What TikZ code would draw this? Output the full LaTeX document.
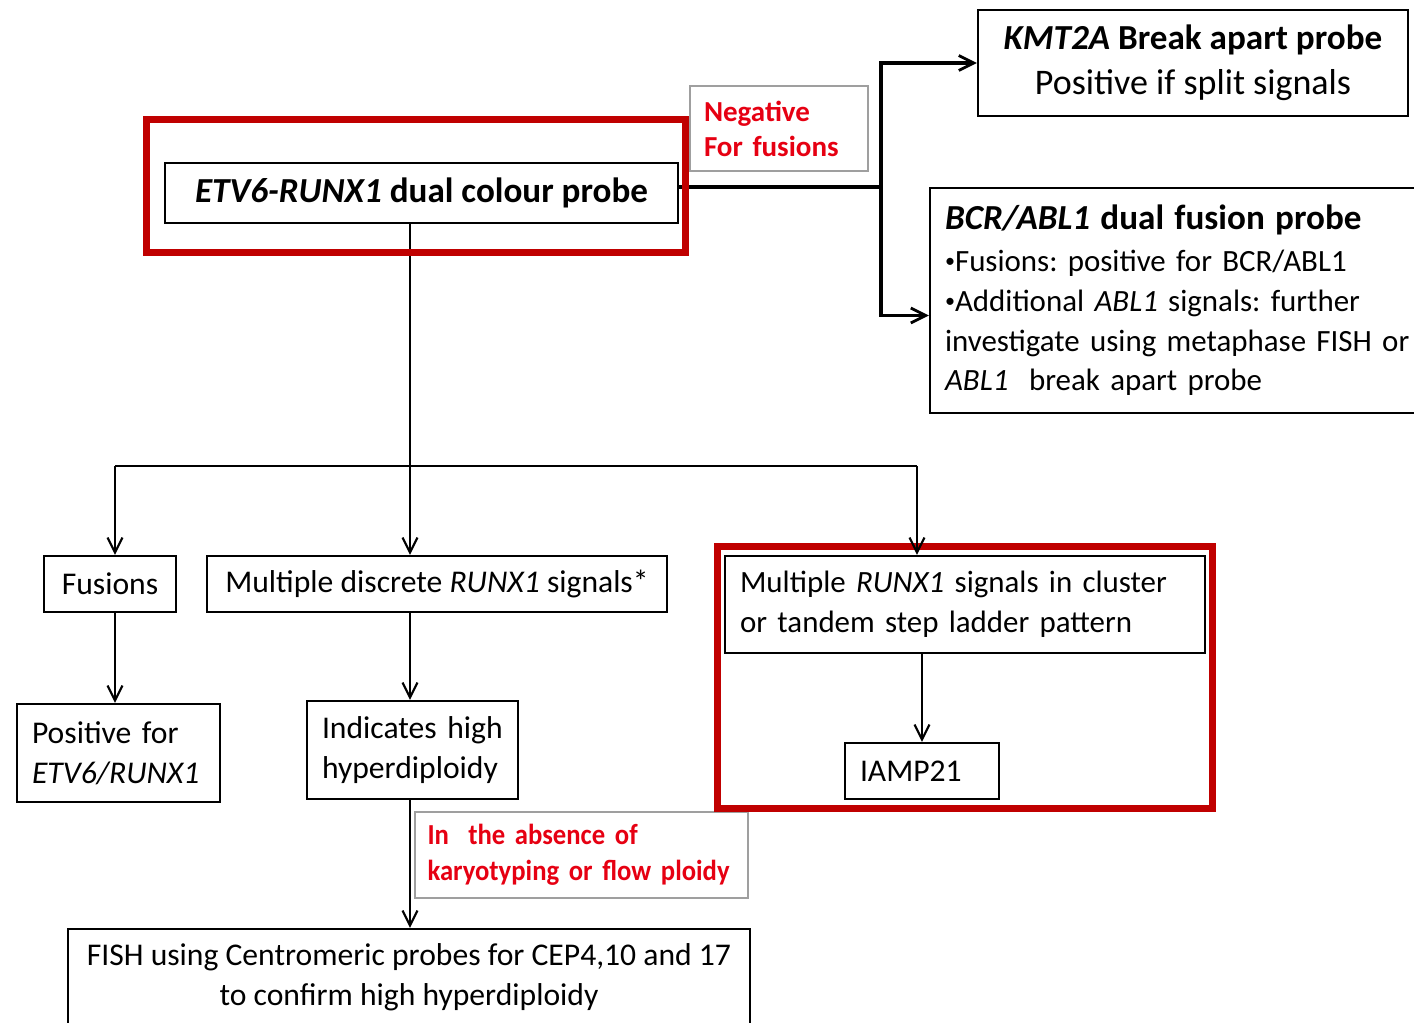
\documentclass[tikz,border=0pt]{standalone}
\usepackage{fontspec}
\setmainfont{Carlito}
\newfontfamily\notefont{Carlito}[WordSpace=0.6]
\newfontfamily\narrownote{Carlito}[FakeStretch=0.92, WordSpace=0.6]
\usepackage{xcolor}
\usepackage{graphicx}
\usepackage{tikz}
\usetikzlibrary{positioning, fit, arrows.meta}
\definecolor{hlred}{HTML}{C00000}
\definecolor{notered}{HTML}{E60012}
\newcommand{\dotitem}{\raisebox{0.12em}{\scalebox{0.65}{•}}}

\begin{document}
\frenchspacing
\begin{tikzpicture}[x=0.02cm, y=-0.02cm,
		box/.style={draw, line width=1.3pt, inner xsep=0.3cm, inner ysep=0pt,
			font=\fontsize{18}{22.7}\selectfont\frenchspacing},
		lbox/.style 2 args={box, align=left, text width=#1, minimum height=#2},
		cbox/.style 2 args={box, align=center, minimum width=#1, minimum height=#2},
		note/.style={draw=gray!75, line width=0.8pt, inner xsep=0.28cm, inner ysep=0pt,
			align=left, text=notered, font=\notefont\fontsize{16.5}{20}\selectfont\bfseries},
		hl/.style={draw=hlred, line width=4pt},
		arr/.style={-{Straight Barb[length=0.3cm, width=0.3cm, line width=1.2pt]}, line width=1.2pt},
		warr/.style={-{Straight Barb[length=0.3cm, width=0.3cm, line width=1.6pt]}, line width=1.8pt}
		]
		\useasboundingbox (0,0) rectangle (1414,1023);
		\node [cbox={10.26cm}{1.2cm}] (etv) at (421.5,193) {\fontsize{20}{24}\selectfont\textbf{\textit{ETV6-RUNX1} dual colour probe}};
		\node [note, text width=3cm, minimum height=1.7cm] (neg) at (779,128.5) {Negative\\For fusions};
		\node [cbox={8.6cm}{2.12cm}] (kmt) at (1193,63) {{\fontsize{20}{24}\selectfont\textbf{\textit{KMT2A} Break apart probe}}\\[3pt]{\fontsize{20.5}{24}\selectfont Positive if split signals}};
		\node [lbox={9.6cm}{4.5cm}, font=\fontsize{17.6}{22.7}\selectfont] (bcr) at (1185,300.5) {{\fontsize{20}{24}\selectfont\textbf{\textit{BCR/ABL1} dual fusion probe}}\\[1pt]
			\dotitem Fusions: positive for BCR/ABL1\\
			\dotitem Additional \textit{ABL1} signals: further\\
			investigate using metaphase FISH or\\
			\textit{ABL1}\ \ break apart probe};
		\node [cbox={2.64cm}{1.12cm}] (fus) at (110,584) {Fusions};
		\node [cbox={9.2cm}{1.12cm}] (disc) at (437,584) {Multiple discrete \textit{RUNX1} signals*};
		\node [lbox={9cm}{1.94cm}, font=\fontsize{17.6}{22.7}\selectfont] (clus) at (965,604.5) {Multiple \textit{RUNX1} signals in cluster\\or tandem step ladder pattern};
		\node [lbox={2.48cm}{1.12cm}] (iamp) at (922,771) {IAMP21};
		\node [lbox={3.46cm}{1.96cm}] (pos) at (118.5,753) {Positive for\\\textit{ETV6/RUNX1}};
		\node [lbox={3.62cm}{1.96cm}] (hyp) at (412.5,750) {Indicates high\\hyperdiploidy};
		\node [note, inner xsep=0.25cm, text width=6.16cm, minimum height=1.72cm, font=\narrownote\fontsize{16.5}{20.4}\selectfont\bfseries] (abs) at (581.5,855) {In\ \ the absence of\\karyotyping or flow ploidy};
		\node [cbox={13.64cm}{1.92cm}] (fish) at (409,977) {FISH using Centromeric probes for CEP4,10 and 17\\to confirm high hyperdiploidy};
		\coordinate (sp) at (881,187);
		\coordinate (bl) at (115,466);
		\coordinate (bm) at (410,466);
		\coordinate (br) at (917,466);
		\draw[line width=1.8pt] (etv.east |- sp) -- (sp);
		\draw[warr] (sp) |- (kmt.west);
		\draw[warr] (sp) |- ([yshift=-0.3cm]bcr.west);
		\draw[line width=1.2pt] (bm |- etv.south) -- (bm);
		\draw[line width=1.2pt] (bl) -- (br);
		\draw[arr] (bl) -- (bl |- fus.north);
		\draw[arr] (bm) -- (bm |- disc.north);
		\draw[hl] (146.5,119.5) rectangle (685.5,252.5);
		\node[hl, fit=(clus) (iamp), inner xsep=0.12cm, inner ysep=0.16cm] (frame) {};
		\draw[arr] (br) -- (br |- clus.north);
		\draw[arr] (bl |- fus.south) -- (bl |- pos.north);
		\draw[arr] (bm |- disc.south) -- (bm |- hyp.north);
		\draw[arr] (iamp.north |- clus.south) -- (iamp.north);
		\draw[arr] (bm |- hyp.south) -- (bm |- fish.north);
\end{tikzpicture}
\end{document}
